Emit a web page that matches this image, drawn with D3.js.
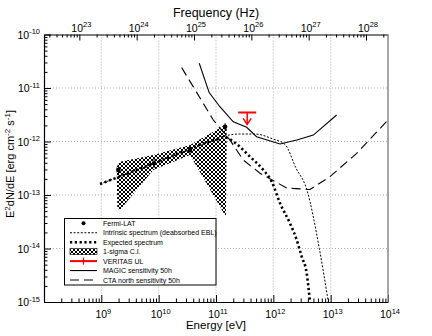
<!DOCTYPE html>
<html>
<head>
<meta charset="utf-8">
<script src="https://cdn.jsdelivr.net/npm/d3@7"></script>
<style>
body { margin: 0; background: #fff; }
svg { display: block; font-family: "Liberation Sans", Arial, sans-serif; }
</style>
</head>
<body>
<svg id="chart" width="432" height="336"></svg>
<script>
// Fermi-LAT points (E in eV, E2dN/dE in erg cm-2 s-1)
var fermiE  = [1.98e9, 8.3e9, 3.52e10, 1.44e11];
var fermiF  = [2.93e-13, 3.92e-13, 6.93e-13, 1.89e-12];
var fermiLo = [2.5e-13, 3.2e-13, 5.8e-13, 1.6e-12];
var fermiHi = [3.4e-13, 4.8e-13, 8.2e-13, 2.2e-12];

// intrinsic spectrum (deabsorbed EBL)
var intrE = [9.5e8, 1e10, 1e11, 1.44e11, 2.6e11, 4.8e11, 9.9e11, 1.6e12, 2.48e12, 3.82e12, 6.34e12, 9.1e12];
var intrF = [1.6e-13, 4.23e-13, 1.09e-12, 1.27e-12, 1.38e-12, 1.38e-12, 1.11e-12, 8.8e-13, 3.2e-13, 1.28e-13, 1.0e-14, 1.0e-15];

// expected spectrum
var expE = [9.5e8, 1e10, 1e11, 1.44e11, 2.0e11, 3.92e11, 6.7e11, 9.4e11, 1.31e12, 1.95e12, 2.56e12, 3.13e12, 3.82e12, 4.36e12];
var expF = [1.6e-13, 4.23e-13, 1.09e-12, 1.2e-12, 1.0e-12, 5.2e-13, 2.93e-13, 1.77e-13, 7.0e-14, 2.96e-14, 1.44e-14, 7.0e-15, 3.43e-15, 1.0e-15];

// 1-sigma confidence band (outline)
var bandE = [1.85e9, 2.12e9, 8.05e9, 3.52e10, 1.44e11, 1.54e11, 1.49e11, 3.52e10, 8.05e9, 2.12e9, 1.9e9];
var bandF = [3.38e-13, 4.19e-13, 5.6e-13, 8.6e-13, 2.03e-12, 1.77e-12, 3.9e-14, 5.6e-13, 2.93e-13, 5.25e-14, 5.6e-14];

// VERITAS upper limit
var veritasE = [3.5e11];
var veritasF = [3.5e-12];

// MAGIC sensitivity 50h
var magicE = [5.1e10, 7.6e10, 1.17e11, 2.0e11, 3.43e11, 5.1e11, 1.31e12, 2.56e12, 4.98e12, 1.27e13];
var magicF = [2.9e-11, 8.2e-12, 4.47e-12, 2.34e-12, 1.84e-12, 1.23e-12, 8.97e-13, 1.07e-12, 1.32e-12, 3.13e-12];

// CTA north sensitivity 50h
var ctaE = [2.52e10, 4.0e10, 8.97e10, 1.75e11, 2.99e11, 5.85e11, 1.71e12, 4.36e12, 9.7e12, 2.84e13, 1e14];
var ctaF = [2.4e-11, 1.06e-11, 2.52e-12, 1.07e-12, 4.5e-13, 2.55e-13, 1.35e-13, 1.27e-13, 2.2e-13, 6.0e-13, 2.52e-12];

// axes
var xMajor = [1e8, 1e9, 1e10, 1e11, 1e12, 1e13, 1e14];
var xLabels = [1e9, 1e10, 1e11, 1e12, 1e13, 1e14];
var yMajor = [1e-15, 1e-14, 1e-13, 1e-12, 1e-11, 1e-10];
var nuLabels = [1e23, 1e24, 1e25, 1e26, 1e27, 1e28];

var legendLabels = ["Fermi-LAT", "Intrinsic spectrum (deabsorbed EBL)", "Expected spectrum",
    "1-sigma C.I.", "VERITAS UL", "MAGIC sensitivity 50h", "CTA north sensitivity 50h"];

var hPlanck = 4.1357e-15; // eV s

var L = 44, R = 388, T = 34.5, B = 302;
var svg = d3.select("#chart");

var x = d3.scaleLog().domain([1e8, 1e14]).range([L, R]);
var y = d3.scaleLog().domain([1e-15, 1e-10]).range([B, T]);
var nu = d3.scaleLog().domain([1e8 / hPlanck, 1e14 / hPlanck]).range([L, R]);

function minors (lo, hi, dom) {
    let out = [];
    for (let e = lo; e <= hi; e++)
        for (let k = 2; k <= 9; k++) {
            let v = k * Math.pow(10, e);
            if (v > dom[0] && v < dom[1]) out.push(v);
        }
    return out;
}

// cross-hatch pattern for the confidence band
var defs = svg.append("defs");
var pat = defs.append("pattern").attr("id", "hatch").attr("patternUnits", "userSpaceOnUse")
    .attr("width", 4).attr("height", 4);
pat.append("rect").attr("width", 4).attr("height", 4).attr("fill", "#fff");
[[0, 0], [1, 1], [2, 2], [3, 3], [3, 0], [2, 1], [1, 2], [0, 3]].forEach(function (p) {
    pat.append("rect").attr("x", p[0]).attr("y", p[1]).attr("width", 1).attr("height", 1)
        .attr("fill", "#000").attr("shape-rendering", "crispEdges");
});
defs.append("clipPath").attr("id", "clip").append("rect")
    .attr("x", L).attr("y", T).attr("width", R - L).attr("height", B - T);

// grid
var grid = svg.append("g").attr("stroke", "#999").attr("stroke-width", 0.8).attr("stroke-dasharray", "1,2");
grid.selectAll(".gx").data(xMajor.slice(1, -1)).enter().append("line")
    .attr("x1", d => x(d)).attr("x2", d => x(d)).attr("y1", T).attr("y2", B);
grid.selectAll(".gy").data(yMajor.slice(1, -1)).enter().append("line")
    .attr("x1", L).attr("x2", R).attr("y1", d => y(d)).attr("y2", d => y(d));

var plot = svg.append("g").attr("clip-path", "url(#clip)");

// band
var bandPts = bandE.map((e, i) => [x(e), y(bandF[i])]);
plot.append("path").attr("d", "M" + bandPts.join("L") + "Z").attr("fill", "url(#hatch)");

var curve = d3.line().x(d => x(d[0])).y(d => y(d[1])).curve(d3.curveMonotoneX);
var straight = d3.line().x(d => x(d[0])).y(d => y(d[1]));
function zip (a, b) { return a.map((v, i) => [v, b[i]]); }

plot.append("path").attr("d", curve(zip(expE, expF))).attr("fill", "none")
    .attr("stroke", "#000").attr("stroke-width", 2.6).attr("stroke-dasharray", "2.2,2.6");
plot.append("path").attr("d", curve(zip(intrE, intrF))).attr("fill", "none")
    .attr("stroke", "#000").attr("stroke-width", 1).attr("stroke-dasharray", "2,1.6");
plot.append("path").attr("d", straight(zip(magicE, magicF))).attr("fill", "none")
    .attr("stroke", "#000").attr("stroke-width", 1.1);
plot.append("path").attr("d", straight(zip(ctaE, ctaF))).attr("fill", "none")
    .attr("stroke", "#000").attr("stroke-width", 1.1).attr("stroke-dasharray", "9,5");

// Fermi points
fermiE.forEach(function (e, i) {
    plot.append("line").attr("x1", x(e)).attr("x2", x(e)).attr("y1", y(fermiLo[i])).attr("y2", y(fermiHi[i]))
        .attr("stroke", "#000").attr("stroke-width", 1);
    plot.append("circle").attr("cx", x(e)).attr("cy", y(fermiF[i])).attr("r", 2.3).attr("fill", "#000");
});

// VERITAS UL
veritasE.forEach(function (e, i) {
    let cx = x(e), cy = y(veritasF[i]);
    let g = plot.append("g").attr("stroke", "#f00").attr("fill", "none");
    g.append("line").attr("x1", cx - 9).attr("x2", cx + 9).attr("y1", cy).attr("y2", cy).attr("stroke-width", 2);
    g.append("line").attr("x1", cx).attr("x2", cx).attr("y1", cy).attr("y2", cy + 12).attr("stroke-width", 1.5);
    g.append("path").attr("d", `M${cx - 4},${cy + 6}L${cx},${cy + 12}L${cx + 4},${cy + 6}`).attr("stroke-width", 1.5);
});

// axes
function tickAxis (axisFn, scale, vals, size, tr) {
    let g = svg.append("g").attr("transform", tr)
        .call(axisFn(scale).tickValues(vals).tickSize(size).tickSizeOuter(0).tickFormat(""));
    g.selectAll("line").attr("stroke-width", 1);
    return g;
}
tickAxis(d3.axisBottom, x, xMajor, -7, `translate(0,${B})`);
tickAxis(d3.axisBottom, x, minors(8, 13, x.domain()), -3.5, `translate(0,${B})`).select(".domain").remove();
tickAxis(d3.axisLeft, y, yMajor, -7, `translate(${L},0)`);
tickAxis(d3.axisLeft, y, minors(-15, -11, y.domain()), -3.5, `translate(${L},0)`).select(".domain").remove();
tickAxis(d3.axisTop, nu, nuLabels, -6, `translate(0,${T})`);
tickAxis(d3.axisTop, nu, minors(22, 28, nu.domain()), -3, `translate(0,${T})`).select(".domain").remove();
svg.selectAll(".domain").attr("stroke-width", 1.2);

// right frame
svg.append("line").attr("x1", R).attr("x2", R).attr("y1", T).attr("y2", B)
    .attr("stroke", "#888").attr("stroke-width", 1.5);

function powLabel (px, py, v, anchor) {
    let t = svg.append("text").attr("x", px).attr("y", py).attr("text-anchor", anchor)
        .attr("font-size", 10.5).attr("fill", "#000");
    t.append("tspan").text("10");
    t.append("tspan").attr("dy", -4.5).attr("font-size", 7.5).text(Math.round(Math.log10(v)));
}
xLabels.forEach(v => powLabel(x(v) + 2, B + 16, v, "middle"));
yMajor.forEach(v => powLabel(L - 4, y(v) + 4, v, "end"));
nuLabels.forEach(v => powLabel(nu(v) + 2, T - 3, v, "middle"));

svg.append("text").attr("x", 216).attr("y", 329).attr("text-anchor", "middle")
    .attr("font-size", 11.5).text("Energy [eV]");
svg.append("text").attr("x", 216).attr("y", 17).attr("text-anchor", "middle")
    .attr("font-size", 12.5).text("Frequency (Hz)");
var yl = svg.append("text").attr("transform", "translate(14,164) rotate(-90)").attr("text-anchor", "middle")
    .attr("font-size", 11);
yl.append("tspan").text("E");
yl.append("tspan").attr("dy", -4).attr("font-size", 8).text("2");
yl.append("tspan").attr("dy", 4).text("dN/dE  [erg cm");
yl.append("tspan").attr("dy", -4).attr("font-size", 8).text("-2");
yl.append("tspan").attr("dy", 4).text(" s");
yl.append("tspan").attr("dy", -4).attr("font-size", 8).text("-1");
yl.append("tspan").attr("dy", 4).text("]");

// legend
var lg = svg.append("g");
lg.append("rect").attr("x", 64.5).attr("y", 218.5).attr("width", 151.5).attr("height", 66.5)
    .attr("fill", "#fff").attr("stroke", "#000").attr("stroke-width", 1);
var rowY = legendLabels.map((d, i) => 223.3 + i * 9.45);
var sx0 = 70, sx1 = 97, sxc = 83.5;
lg.selectAll("text").data(legendLabels).enter().append("text")
    .attr("x", 103).attr("y", (d, i) => rowY[i] + 2.5).attr("font-size", 7).text(d => d);
lg.append("circle").attr("cx", sxc).attr("cy", rowY[0]).attr("r", 2).attr("fill", "#000");
lg.append("line").attr("x1", sx0).attr("x2", sx1).attr("y1", rowY[1]).attr("y2", rowY[1])
    .attr("stroke", "#000").attr("stroke-width", 1).attr("stroke-dasharray", "2,1.6");
lg.append("line").attr("x1", sx0).attr("x2", sx1).attr("y1", rowY[2]).attr("y2", rowY[2])
    .attr("stroke", "#000").attr("stroke-width", 2.6).attr("stroke-dasharray", "2.2,2.6");
lg.append("rect").attr("x", sx0).attr("y", rowY[3] - 3).attr("width", sx1 - sx0).attr("height", 6)
    .attr("fill", "url(#hatch)").attr("stroke", "#000").attr("stroke-width", 0.6);
lg.append("line").attr("x1", sx0).attr("x2", sx1).attr("y1", rowY[4]).attr("y2", rowY[4])
    .attr("stroke", "#f00").attr("stroke-width", 2);
lg.append("line").attr("x1", sxc).attr("x2", sxc).attr("y1", rowY[4] - 3.5).attr("y2", rowY[4] + 3.5)
    .attr("stroke", "#f00").attr("stroke-width", 1.2);
lg.append("line").attr("x1", sx0).attr("x2", sx1).attr("y1", rowY[5]).attr("y2", rowY[5])
    .attr("stroke", "#000").attr("stroke-width", 1.1);
lg.append("line").attr("x1", sx0).attr("x2", sx1).attr("y1", rowY[6]).attr("y2", rowY[6])
    .attr("stroke", "#000").attr("stroke-width", 1.1).attr("stroke-dasharray", "9,5");
</script>
</body>
</html>
